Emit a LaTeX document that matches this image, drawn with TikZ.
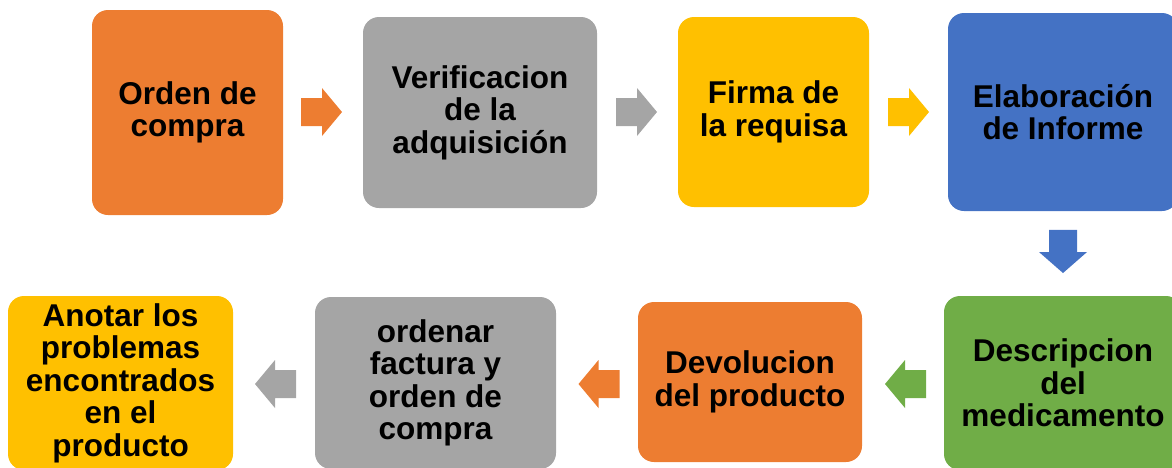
\documentclass[tikz,border=0pt]{standalone}
\usepackage{fontspec}
\setmainfont{Liberation Sans}
\definecolor{cOrange}{HTML}{ED7D31}
\definecolor{cGray}{HTML}{A5A5A5}
\definecolor{cYellow}{HTML}{FFC000}
\definecolor{cBlue}{HTML}{4472C4}
\definecolor{cGreen}{HTML}{70AD47}
\begin{document}
\begin{tikzpicture}[x=1pt,y=-1pt,
  box/.style={rounded corners=16pt, inner sep=0pt, outer sep=0pt, align=center,
    font=\fontsize{31.5}{32.5}\selectfont\bfseries, text=black},
  pics/barrow/.style={code={
    \fill (-20.5,-14) -- (0.5,-14) -- (0.5,-24) -- (20.5,0) -- (0.5,24) -- (0.5,14) -- (-20.5,14) -- cycle;
  }}]
\useasboundingbox (0,0) rectangle (1172,467);
\clip (0,0) rectangle (1172,467);
% top row
\node[box, fill=cOrange, minimum width=191pt, minimum height=205pt] (b1) at (187.5,112.5) {Orden de\\compra};
\node[box, fill=cGray, minimum width=234pt, minimum height=191pt] (b2) at (480,112.5) {Verificacion\\de la\\adquisición};
\node[box, fill=cYellow, minimum width=191pt, minimum height=190pt] (b3) at (773.5,112) {Firma de\\la requisa};
\node[box, fill=cBlue, minimum width=230pt, minimum height=198pt] (b4) at (1063,112) {Elaboración\\de Informe};
% bottom row
\node[box, fill=cGreen, minimum width=238pt, minimum height=174pt] (b5) at (1063,383) {Descripcion\\del\\medicamento};
\node[box, fill=cOrange, minimum width=224pt, minimum height=160pt] (b6) at (750,382) {Devolucion\\del producto};
\node[box, fill=cGray, minimum width=241pt, minimum height=172pt] (b7) at (435.5,383) {ordenar\\factura y\\orden de\\compra};
\node[box, fill=cYellow, minimum width=225pt, minimum height=174pt] (b8) at (120.5,383) {Anotar los\\problemas\\encontrados\\en el\\producto};
% arrows
\pic[fill=cOrange] (a1) at (321.5,112) {barrow};
\pic[fill=cGray] (a2) at (636.5,112) {barrow};
\pic[fill=cYellow] (a3) at (908.5,112) {barrow};
\pic[fill=cBlue, rotate=-90, xscale=1.05] (a4) at (1063,251.5) {barrow};
\pic[fill=cGreen, rotate=180] (a5) at (905.5,384) {barrow};
\pic[fill=cOrange, rotate=180] (a6) at (599,384) {barrow};
\pic[fill=cGray, rotate=180] (a7) at (275.5,384) {barrow};
\end{tikzpicture}
\end{document}
